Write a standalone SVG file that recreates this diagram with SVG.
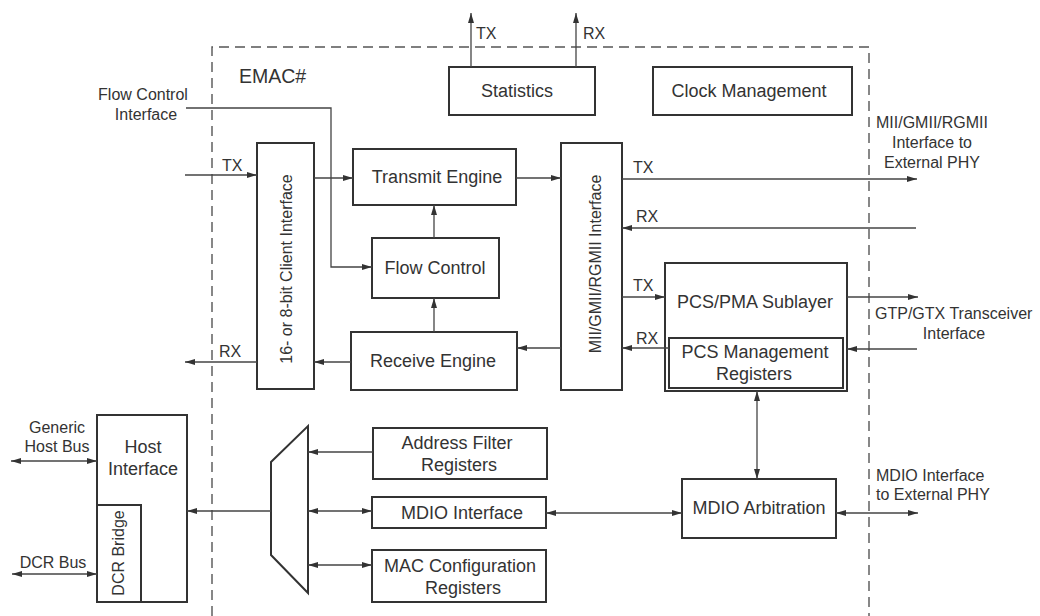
<svg xmlns="http://www.w3.org/2000/svg" width="1040" height="616" viewBox="0 0 1040 616">
  <style>
    .box { fill: #fff; stroke: #333; stroke-width: 2; }
    .ln { fill: none; stroke: #444; stroke-width: 1.3; }
    .dash { fill: none; stroke: #555; stroke-width: 1.4; stroke-dasharray: 10 6; }
    text { font-family: "Liberation Sans", Arial, sans-serif; fill: #333; }
    .t { font-size: 18px; text-anchor: middle; }
    .v { font-size: 16px; text-anchor: middle; }
    .s { font-size: 16px; }
    .sc { font-size: 16px; text-anchor: middle; }
  </style>
  <defs>
    <marker id="arr" viewBox="0 0 10 6" refX="10" refY="3" markerWidth="10" markerHeight="6" markerUnits="userSpaceOnUse" orient="auto-start-reverse">
      <path d="M0,0 L10,3 L0,6 z" fill="#333"/>
    </marker>
  </defs>

  <!-- EMAC boundary -->
  <g id="emac-boundary">
    <path class="dash" d="M212,616 V47 H869 V616"/>
    <text x="239" y="83" style="font-size:19.5px">EMAC#</text>
  </g>

  <!-- Blocks -->
  <g id="statistics">
    <rect class="box" x="449" y="67" width="146" height="48"/>
    <text class="t" x="517" y="97">Statistics</text>
  </g>
  <g id="clock-management">
    <rect class="box" x="653" y="67" width="199" height="48"/>
    <text class="t" x="749" y="97">Clock Management</text>
  </g>
  <g id="client-interface">
    <rect class="box" x="257" y="143" width="57" height="246"/>
    <text class="v" transform="translate(292,269) rotate(-90)">16- or 8-bit Client Interface</text>
  </g>
  <g id="transmit-engine">
    <rect class="box" x="353" y="149" width="163" height="56"/>
    <text class="t" x="437" y="183">Transmit Engine</text>
  </g>
  <g id="flow-control">
    <rect class="box" x="372" y="238" width="127" height="60"/>
    <text class="t" x="435" y="274">Flow Control</text>
  </g>
  <g id="receive-engine">
    <rect class="box" x="351" y="332" width="166" height="58"/>
    <text class="t" x="433" y="367">Receive Engine</text>
  </g>
  <g id="mii-interface">
    <rect class="box" x="561" y="143" width="61" height="247"/>
    <text class="v" transform="translate(601,264) rotate(-90)">MII/GMII/RGMII Interface</text>
  </g>
  <g id="pcs-pma">
    <rect class="box" x="665" y="263" width="182" height="128"/>
    <text class="t" x="755" y="308">PCS/PMA Sublayer</text>
    <rect class="box" x="669" y="338" width="174" height="50"/>
    <text class="t" x="755" y="358">PCS Management</text>
    <text class="t" x="754" y="380">Registers</text>
  </g>
  <g id="mdio-arbitration">
    <rect class="box" x="682" y="479" width="154" height="59"/>
    <text class="t" x="759" y="514">MDIO Arbitration</text>
  </g>
  <g id="address-filter">
    <rect class="box" x="373" y="428" width="174" height="51"/>
    <text class="t" x="457" y="449">Address Filter</text>
    <text class="t" x="459" y="471">Registers</text>
  </g>
  <g id="mdio-interface">
    <rect class="box" x="372" y="497" width="174" height="31"/>
    <text class="t" x="462" y="519">MDIO Interface</text>
  </g>
  <g id="mac-config">
    <rect class="box" x="372" y="550" width="174" height="52"/>
    <text class="t" x="460" y="572">MAC Configuration</text>
    <text class="t" x="463" y="594">Registers</text>
  </g>
  <g id="mux">
    <path class="box" d="M271,462 L308,426 L308,593 L271,555 Z"/>
  </g>
  <g id="host-interface">
    <rect class="box" x="97" y="415" width="90" height="187"/>
    <text class="t" x="143" y="453">Host</text>
    <text class="t" x="143" y="475">Interface</text>
    <rect class="box" x="97" y="505" width="44" height="97"/>
    <text class="v" transform="translate(124,553) rotate(-90)">DCR Bridge</text>
  </g>

  <!-- Connectors -->
  <g id="connectors">
    <!-- statistics outputs -->
    <line class="ln" x1="471" y1="67" x2="471" y2="13" marker-end="url(#arr)"/>
    <line class="ln" x1="576" y1="67" x2="576" y2="13" marker-end="url(#arr)"/>
    <!-- flow control interface -->
    <polyline class="ln" points="186,108 331,108 331,267 372,267" marker-end="url(#arr)"/>
    <!-- client side -->
    <line class="ln" x1="185" y1="175" x2="257" y2="175" marker-end="url(#arr)"/>
    <line class="ln" x1="257" y1="362" x2="185" y2="362" marker-end="url(#arr)"/>
    <line class="ln" x1="314" y1="178" x2="353" y2="178" marker-end="url(#arr)"/>
    <line class="ln" x1="351" y1="362" x2="314" y2="362" marker-end="url(#arr)"/>
    <!-- engines and flow control -->
    <line class="ln" x1="434" y1="238" x2="434" y2="205" marker-end="url(#arr)"/>
    <line class="ln" x1="434" y1="332" x2="434" y2="298" marker-end="url(#arr)"/>
    <line class="ln" x1="516" y1="178" x2="561" y2="178" marker-end="url(#arr)"/>
    <line class="ln" x1="561" y1="348" x2="517" y2="348" marker-end="url(#arr)"/>
    <!-- MII external -->
    <line class="ln" x1="622" y1="179" x2="917" y2="179" marker-end="url(#arr)"/>
    <line class="ln" x1="916" y1="228" x2="622" y2="228" marker-end="url(#arr)"/>
    <!-- MII to PCS -->
    <line class="ln" x1="622" y1="297" x2="665" y2="297" marker-end="url(#arr)"/>
    <line class="ln" x1="669" y1="348" x2="622" y2="348" marker-end="url(#arr)"/>
    <!-- transceiver -->
    <line class="ln" x1="847" y1="297" x2="918" y2="297" marker-end="url(#arr)"/>
    <line class="ln" x1="917" y1="349" x2="847" y2="349" marker-end="url(#arr)"/>
    <!-- management path -->
    <line class="ln" x1="757" y1="391" x2="757" y2="479" marker-start="url(#arr)" marker-end="url(#arr)"/>
    <line class="ln" x1="836" y1="513" x2="918" y2="513" marker-start="url(#arr)" marker-end="url(#arr)"/>
    <line class="ln" x1="546" y1="513" x2="682" y2="513" marker-start="url(#arr)" marker-end="url(#arr)"/>
    <!-- registers to mux -->
    <line class="ln" x1="373" y1="452" x2="308" y2="452" marker-end="url(#arr)"/>
    <line class="ln" x1="372" y1="511" x2="308" y2="511" marker-start="url(#arr)" marker-end="url(#arr)"/>
    <line class="ln" x1="372" y1="565" x2="308" y2="565" marker-start="url(#arr)" marker-end="url(#arr)"/>
    <!-- mux to host -->
    <line class="ln" x1="271" y1="511" x2="187" y2="511" marker-end="url(#arr)"/>
    <!-- host buses -->
    <line class="ln" x1="11" y1="461" x2="97" y2="461" marker-start="url(#arr)" marker-end="url(#arr)"/>
    <line class="ln" x1="12" y1="574" x2="97" y2="574" marker-start="url(#arr)" marker-end="url(#arr)"/>
  </g>

  <!-- Signal labels -->
  <g id="labels">
    <text class="s" x="476" y="39">TX</text>
    <text class="s" x="583" y="39">RX</text>
    <text class="s" x="222" y="171">TX</text>
    <text class="s" x="219" y="357">RX</text>
    <text class="s" x="633" y="173">TX</text>
    <text class="s" x="636" y="222">RX</text>
    <text class="s" x="633" y="291">TX</text>
    <text class="s" x="636" y="344">RX</text>
    <text class="sc" x="143" y="100">Flow Control</text>
    <text class="sc" x="146" y="120">Interface</text>
    <text class="sc" x="932" y="128">MII/GMII/RGMII</text>
    <text class="sc" x="932" y="148">Interface to</text>
    <text class="sc" x="932" y="168">External PHY</text>
    <text class="s" x="875" y="319">GTP/GTX Transceiver</text>
    <text class="sc" x="954" y="339">Interface</text>
    <text class="s" x="876" y="481">MDIO Interface</text>
    <text class="s" x="876" y="500">to External PHY</text>
    <text class="sc" x="57" y="433">Generic</text>
    <text class="sc" x="57" y="452">Host Bus</text>
    <text class="sc" x="53" y="568">DCR Bus</text>
  </g>
</svg>
